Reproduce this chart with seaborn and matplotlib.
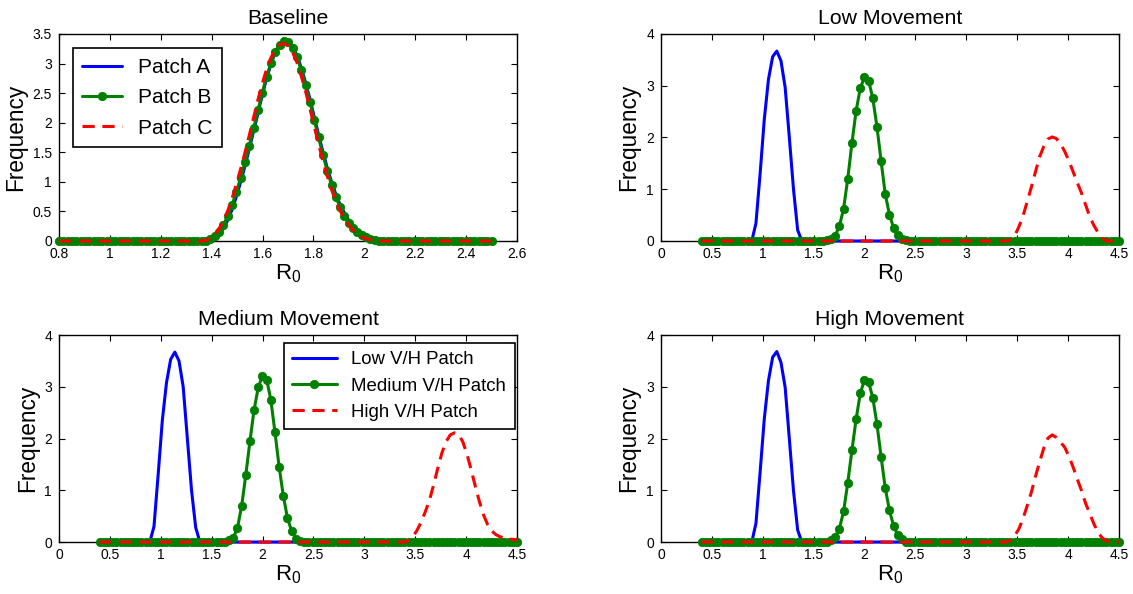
import numpy as np
import matplotlib.pyplot as plt
from matplotlib.ticker import FuncFormatter
import seaborn as sns

sns.set_style('ticks')
plt.rcParams['font.family'] = ['Liberation Sans', 'DejaVu Sans']
plt.rcParams['text.color'] = 'black'
plt.rcParams['axes.labelcolor'] = 'black'

# sampling grids of the R0 values (start, stop, number of points)
base_grid = np.linspace(0.8, 2.5, 101)
move_grid = np.linspace(0.4, 4.5, 101)

# values; each curve is zero outside the listed stretch
# (first index on the grid, then the values)
base_a_start = 35
base_a = [0.01, 0.05, 0.11, 0.21, 0.35, 0.53, 0.75, 1.00, 1.27, 1.56, 1.86, 2.16, 2.47, 2.75,
          2.99, 3.19, 3.32, 3.38, 3.37, 3.29, 3.14, 2.93, 2.68, 2.40, 2.10, 1.80, 1.51, 1.24,
          1.00, 0.79, 0.61, 0.47, 0.35, 0.26, 0.19, 0.14, 0.10, 0.06, 0.03, 0.01]
base_b_start = 35
base_b = [0.03, 0.08, 0.16, 0.27, 0.42, 0.61, 0.83, 1.07, 1.33, 1.61, 1.91, 2.21, 2.51, 2.78,
          3.01, 3.20, 3.32, 3.38, 3.36, 3.27, 3.11, 2.89, 2.64, 2.35, 2.05, 1.75, 1.46, 1.19,
          0.95, 0.74, 0.57, 0.43, 0.31, 0.22, 0.15, 0.10, 0.06, 0.03, 0.01]
base_c_start = 34
base_c = [0.01, 0.05, 0.11, 0.21, 0.34, 0.51, 0.72, 0.96, 1.22, 1.50, 1.79, 2.09, 2.39, 2.66,
          2.91, 3.10, 3.24, 3.32, 3.34, 3.30, 3.19, 3.02, 2.79, 2.53, 2.24, 1.94, 1.64, 1.36,
          1.10, 0.87, 0.67, 0.51, 0.38, 0.27, 0.18, 0.12, 0.07, 0.04, 0.02]

low_blue_start = 13
low_blue = [0.34, 1.3, 2.35, 3.12, 3.56, 3.67, 3.48, 2.97, 2.0, 1.0, 0.21]
low_green_start = 30
low_green = [0.01, 0.04, 0.1, 0.29, 0.62, 1.2, 1.89, 2.51, 2.95, 3.16, 3.10, 2.76, 2.21, 1.54,
             0.9, 0.51, 0.25, 0.11, 0.04, 0.01]
low_red_start = 74
low_red = [0.02, 0.10, 0.27, 0.48, 0.76, 1.04, 1.34, 1.63, 1.83, 1.97, 2.01, 1.98, 1.88, 1.73,
           1.55, 1.34, 1.13, 0.93, 0.70, 0.47, 0.30, 0.16, 0.05]

med_blue_start = 13
med_blue = [0.3, 1.3, 2.35, 3.08, 3.53, 3.67, 3.5, 3.0, 2.0, 1.0, 0.28]
med_green_start = 30
med_green = [0.01, 0.03, 0.08, 0.27, 0.69, 1.29, 1.95, 2.56, 2.99, 3.21, 3.14, 2.75, 2.12, 1.45,
             0.89, 0.46, 0.21, 0.06, 0.02]
med_red_start = 74
med_red = [0.03, 0.10, 0.22, 0.38, 0.58, 0.80, 1.10, 1.42, 1.72, 1.94, 2.07, 2.11, 2.08, 1.94,
           1.70, 1.40, 1.08, 0.78, 0.52, 0.33, 0.21, 0.14, 0.10, 0.08, 0.06, 0.05, 0.04]

high_blue_start = 13
high_blue = [0.36, 1.35, 2.38, 3.12, 3.57, 3.68, 3.47, 2.99, 2.0, 0.99, 0.23]
high_green_start = 30
high_green = [0.01, 0.04, 0.1, 0.26, 0.59, 1.14, 1.77, 2.37, 2.87, 3.13, 3.09, 2.79, 2.28, 1.64,
              1.04, 0.61, 0.31, 0.13, 0.05, 0.01]
high_red_start = 74
high_red = [0.03, 0.12, 0.25, 0.45, 0.70, 0.96, 1.27, 1.55, 1.82, 2.01, 2.07, 2.02, 1.93, 1.83,
            1.66, 1.45, 1.22, 1.00, 0.75, 0.55, 0.35, 0.18, 0.08, 0.02]

base_labels = ['Patch A', 'Patch B', 'Patch C']
move_labels = ['Low V/H Patch', 'Medium V/H Patch', 'High V/H Patch']

base_xticks = [0.8, 1, 1.2, 1.4, 1.6, 1.8, 2, 2.2, 2.4, 2.6]
base_yticks = [0, 0.5, 1, 1.5, 2, 2.5, 3, 3.5]
move_xticks = [0, 0.5, 1, 1.5, 2, 2.5, 3, 3.5, 4, 4.5]
move_yticks = [0, 1, 2, 3, 4]


def on_grid(first, vals, n=101):
    y = np.zeros(n)
    y[first:first + len(vals)] = vals
    return y


BLUE = '#0000ff'
GREEN = '#008000'
RED = '#ff0000'


def draw_panel(ax, grid, curves, labels, title, xlim, ylim, xticks, yticks, legend_kws=None):
    blue, green, red = curves
    lab = labels if legend_kws else [None, None, None]
    sns.lineplot(x=grid, y=blue, ax=ax, color=BLUE, lw=2.2, label=lab[0],
                 clip_on=False, zorder=3)
    sns.lineplot(x=grid, y=green, ax=ax, color=GREEN, lw=2.2, label=lab[1],
                 marker='o', markersize=6, markerfacecolor=GREEN,
                 markeredgecolor=GREEN, markeredgewidth=0.6, clip_on=False, zorder=3)
    sns.lineplot(x=grid, y=red, ax=ax, color=RED, lw=2.2, label=lab[2],
                 linestyle=(0, (4, 2.5)), clip_on=False, zorder=3)

    ax.set_xlim(*xlim)
    ax.set_ylim(*ylim)
    ax.set_xticks(xticks)
    ax.set_yticks(yticks)
    fmt = FuncFormatter(lambda v, p: f'{v:g}')
    ax.xaxis.set_major_formatter(fmt)
    ax.yaxis.set_major_formatter(fmt)
    ax.tick_params(direction='in', top=True, right=True, length=4, width=0.8,
                   labelsize=10, colors='black')
    ax.tick_params(axis='x', pad=4)
    ax.tick_params(axis='y', pad=5)
    for sp in ax.spines.values():
        sp.set_visible(True)
        sp.set_color('black')
        sp.set_linewidth(1)
    ax.set_title(title, fontsize=15.3, pad=7, color='black')
    ax.set_xlabel(r'$\mathregular{R_0}$', fontsize=16, labelpad=1)
    ax.set_ylabel('Frequency', fontsize=16.3, labelpad=4)

    if ax.get_legend() is not None:
        ax.get_legend().remove()
    if legend_kws:
        leg = ax.legend(frameon=True, fancybox=False, edgecolor='black', framealpha=1,
                        borderaxespad=0, borderpad=0.45, handletextpad=0.8,
                        bbox_transform=ax.transAxes, **legend_kws)
        leg.get_frame().set_linewidth(1.2)


fig = plt.figure(figsize=(11.33, 5.94), dpi=100)
ax_base = fig.add_axes([0.0521, 0.5943, 0.4042, 0.3485])
ax_low = fig.add_axes([0.5834, 0.5943, 0.4042, 0.3485])
ax_med = fig.add_axes([0.0521, 0.0875, 0.4042, 0.3485])
ax_high = fig.add_axes([0.5834, 0.0875, 0.4042, 0.3485])

draw_panel(ax_base, base_grid,
           [on_grid(base_a_start, base_a), on_grid(base_b_start, base_b),
            on_grid(base_c_start, base_c)],
           base_labels, 'Baseline', (0.8, 2.6), (0, 3.5), base_xticks, base_yticks,
           legend_kws=dict(loc='upper left', bbox_to_anchor=(0.03, 0.93), fontsize=15,
                           handlelength=1.9, labelspacing=0.55))
draw_panel(ax_low, move_grid,
           [on_grid(low_blue_start, low_blue), on_grid(low_green_start, low_green),
            on_grid(low_red_start, low_red)],
           move_labels, 'Low Movement', (0, 4.5), (0, 4), move_xticks, move_yticks)
draw_panel(ax_med, move_grid,
           [on_grid(med_blue_start, med_blue), on_grid(med_green_start, med_green),
            on_grid(med_red_start, med_red)],
           move_labels, 'Medium Movement', (0, 4.5), (0, 4), move_xticks, move_yticks,
           legend_kws=dict(loc='upper right', bbox_to_anchor=(0.995, 0.962), fontsize=13.4,
                           handlelength=2.4, labelspacing=0.5))
draw_panel(ax_high, move_grid,
           [on_grid(high_blue_start, high_blue), on_grid(high_green_start, high_green),
            on_grid(high_red_start, high_red)],
           move_labels, 'High Movement', (0, 4.5), (0, 4), move_xticks, move_yticks)

fig.savefig('out.png', dpi=100)
